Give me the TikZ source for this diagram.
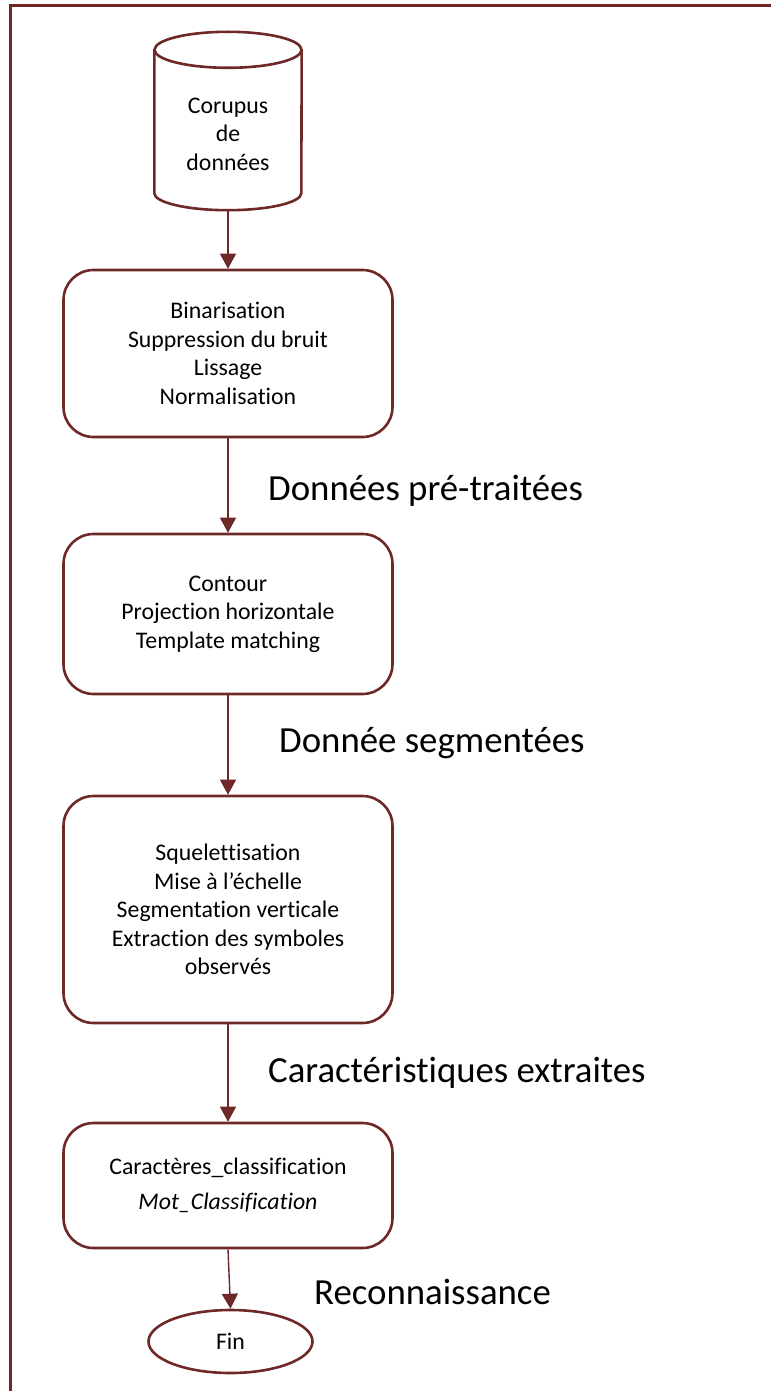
\documentclass[tikz,border=0pt]{standalone}
\usepackage{fontspec}
\setmainfont{Carlito}[Ligatures=NoCommon]
\usetikzlibrary{arrows.meta,calc,shapes.geometric}
\definecolor{frame}{RGB}{110,40,40}
\tikzset{
  outline/.style={draw=frame, line width=2.6pt},
  stepbox/.style={outline, rounded corners=30pt, minimum width=329pt, inner sep=0pt,
    align=center, font=\fontsize{23.8}{28.5}\selectfont},
  flow/.style={draw=frame, line width=1.4pt, -{Triangle[length=15pt,width=16pt]}},
  caption/.style={anchor=base west, inner sep=0pt, font=\fontsize{36.8}{40}\selectfont}
}
\begin{document}
\begin{tikzpicture}[x=1pt,y=1pt]
\useasboundingbox (0,0) rectangle (771,-1391);

% outer frame (top and left edges)
\draw[draw=frame, line width=3pt] (10.5,-1391) -- (10.5,-6) -- (771,-6);

% data store cylinder
\node[minimum width=147pt, minimum height=178pt, inner sep=0pt] (db) at (228,-121) {};
\draw[outline, fill=white] ($(db.north west)+(0,-18)$) -- ($(db.south west)+(0,17)$)
  arc[start angle=180, end angle=360, x radius=73.5, y radius=17]
  -- ($(db.north east)+(0,-18)$);
\draw[outline] ($(db.north)+(0,-18)$) ellipse [x radius=73.5, y radius=18];
\node[align=center, inner sep=0pt, font=\fontsize{23.8}{28.5}\selectfont] (dbtext) at (228,-134)
  {Corupus\\de\\données};

% processing steps
\node[stepbox, minimum height=167pt] (pre) at (228,-353.5)
  {Binarisation\\Suppression du bruit\\Lissage\\Normalisation};
\node[stepbox, minimum height=160pt] (seg) at (228,-614)
  {Contour\\Projection horizontale\\Template matching};
\node[stepbox, minimum height=227pt] (feat) at (228,-909.5)
  {Squelettisation\\Mise à l’échelle\\Segmentation verticale\\Extraction des symboles\\observés};
\node[stepbox, minimum height=125pt] (cls) at (228,-1185.5)
  {Caractères\_classification\\[6pt]\textit{Mot\_Classification}};
\node[outline, ellipse, minimum width=164pt, minimum height=63pt, inner sep=0pt,
  font=\fontsize{23.8}{28.5}\selectfont] (fin) at (230.5,-1341.5) {Fin};

% connectors
\draw[flow] (db.south) -- (pre.north);
\draw[flow] (pre.south) -- (seg.north);
\draw[flow] (seg.south) -- (feat.north);
\draw[flow] (feat.south) -- (cls.north);
\draw[flow] (cls.south) -- (fin.north);

% stage outputs
\node[caption] (l1) at (268,-500) {Données pré-traitées};
\node[caption] (l2) at (279,-752) {Donnée segmentées};
\node[caption] (l3) at (268,-1082) {Caractéristiques extraites};
\node[caption] (l4) at (314,-1304) {Reconnaissance};
\end{tikzpicture}
\end{document}
